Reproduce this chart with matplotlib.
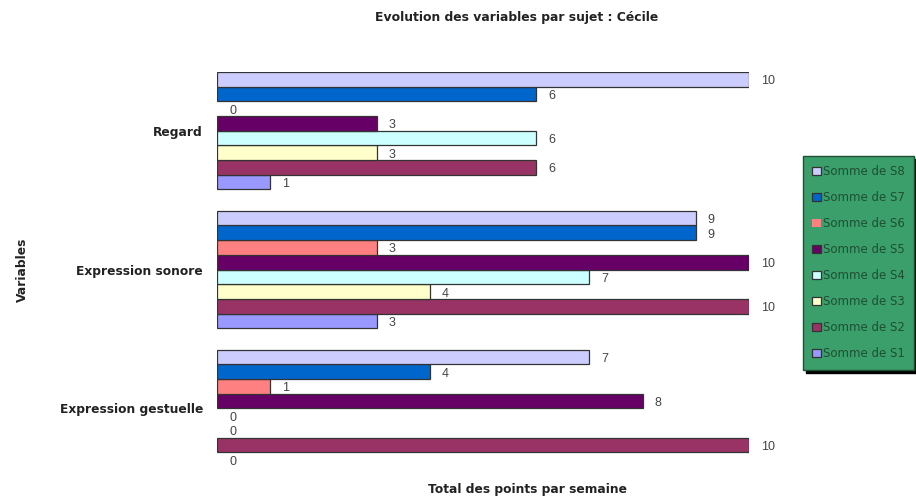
import matplotlib
matplotlib.use("Agg")
import matplotlib.pyplot as plt
import numpy as np

plt.rcParams['font.family'] = ['DejaVu Sans']

categories = ['Regard', 'Expression sonore', 'Expression gestuelle']
series = ['Somme de S1', 'Somme de S2', 'Somme de S3', 'Somme de S4',
          'Somme de S5', 'Somme de S6', 'Somme de S7', 'Somme de S8']
# values per series, in order Regard, Expression sonore, Expression gestuelle
s1 = [1, 3, 0]
s2 = [6, 10, 10]
s3 = [3, 4, 0]
s4 = [6, 7, 0]
s5 = [3, 10, 8]
s6 = [0, 3, 1]
s7 = [6, 9, 4]
s8 = [10, 9, 7]
values = [s1, s2, s3, s4, s5, s6, s7, s8]
colors = ['#9999FF', '#993366', '#FFFFCC', '#CCFFFF',
          '#660066', '#FF8080', '#0066CC', '#CCCCFF']

fig = plt.figure(figsize=(9.16, 4.98), dpi=100)
ax = fig.add_axes([0.2369, 0.0622, 0.5808, 0.7932])

h = 0.1058
pos = np.arange(len(categories))
bars = []
for j, (vals, col) in enumerate(zip(values, colors)):
    y = pos + (3.5 - j) * h
    # no outline on empty bars
    lw = [0.9 if v > 0 else 0 for v in vals]
    b = ax.barh(y, vals, height=h, color=col, edgecolor='#333333',
                linewidth=lw, label=series[j])
    bars.append(b)
    for yy, v in zip(y, vals):
        ax.annotate(str(v), (v, yy), xytext=(12, -2), textcoords='offset pixels',
                    ha='left', va='center', fontsize=9, color='#444444',
                    family='Liberation Sans', annotation_clip=False)

ax.set_xlim(0, 10)
ax.set_ylim(2 + 4 * h, -4 * h)
ax.set_yticks(pos)
ax.set_yticklabels(categories, fontsize=8.8, fontweight='bold', color='#222222')
ax.tick_params(axis='y', length=0, pad=10)
ax.set_xticks([])
for sp in ax.spines.values():
    sp.set_visible(False)

fig.text(517 / 916, 1 - 18 / 498, 'Evolution des variables par sujet : Cécile',
         ha='center', va='center', fontsize=8.9, fontweight='bold', color='#222222')
fig.text(528 / 916, 1 - 489 / 498, 'Total des points par semaine',
         ha='center', va='center', fontsize=8.8, fontweight='bold', color='#222222')
fig.text(22 / 916, 1 - 270 / 498, 'Variables', rotation=90,
         ha='center', va='center', fontsize=8.8, fontweight='bold', color='#222222')

leg = fig.legend(handles=bars[::-1], loc='upper left',
                 bbox_to_anchor=(803 / 916, 1 - 156 / 498),
                 fontsize=8.5, labelspacing=1.1, handlelength=0.7,
                 handleheight=0.7, handletextpad=0.2, borderpad=0.8,
                 borderaxespad=0, fancybox=False, frameon=True,
                 shadow={'color': 'black', 'alpha': 1})
leg.get_frame().set_facecolor('#3A9F6A')
leg.get_frame().set_edgecolor('#1f4f33')
leg.get_frame().set_alpha(1)
for t in leg.get_texts():
    t.set_color('#1f4f33')

fig.savefig('out.png', dpi=100)
